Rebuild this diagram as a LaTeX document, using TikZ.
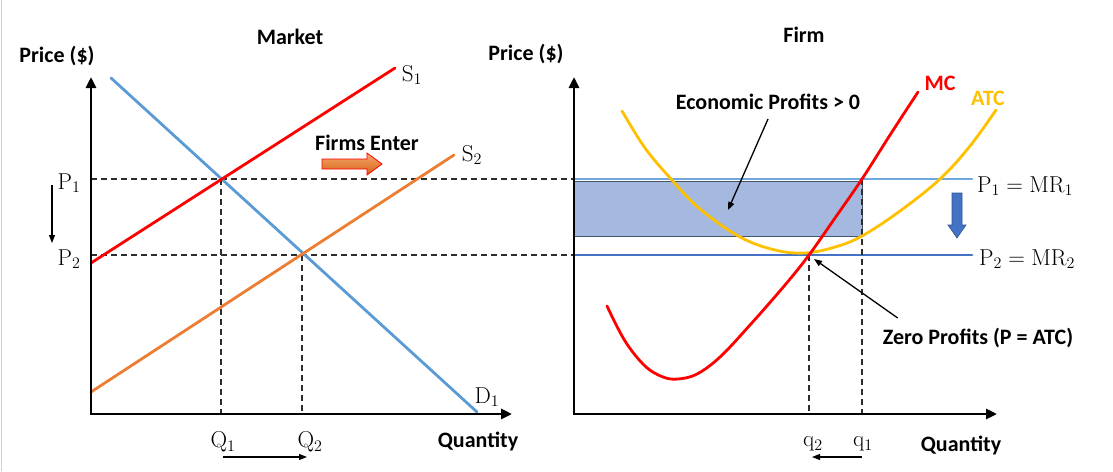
\RequirePackage{fix-cm}
\documentclass[tikz,border=0pt]{standalone}
\usepackage[no-math]{fontspec}
\setmainfont{Carlito}
\usetikzlibrary{arrows.meta}

\definecolor{demblue}{RGB}{91,155,213}
\definecolor{supred}{RGB}{255,0,0}
\definecolor{suporange}{RGB}{237,125,49}
\definecolor{atcyellow}{RGB}{255,192,0}
\definecolor{mrone}{RGB}{111,168,220}
\definecolor{mrtwo}{RGB}{68,114,196}
\definecolor{mrtwoedge}{RGB}{47,82,143}
\definecolor{profitfill}{RGB}{164,184,224}
\definecolor{profitedge}{RGB}{68,84,106}
\definecolor{guidegray}{RGB}{45,45,45}
\definecolor{enterlight}{RGB}{246,170,110}
\definecolor{enterdark}{RGB}{214,96,20}

\tikzset{
  axis/.style={line width=2.8pt, line join=miter, {Triangle[length=11pt,width=10pt]}-{Triangle[length=11pt,width=10pt]}},
  guide/.style={guidegray, line width=1.3pt, dash pattern=on 6pt off 4pt},
  curve/.style={line width=2.8pt, line cap=round},
  thinarrow/.style={line width=1.3pt, -{Triangle[length=8pt,width=6pt]}},
  lbl/.style={font=\fontsize{22}{26}\selectfont\bfseries, inner sep=0pt},
  mlbl/.style={font=\fontsize{23}{27}\selectfont, inner sep=0pt},
}

\begin{document}
\begin{tikzpicture}[x=1pt, y=-1pt]
  \useasboundingbox (0,0) rectangle (1113,471);
  \draw[gray!35, line width=1pt] (1,0) -- (1,471);

  % market
  \node[lbl] (market) at (290,37) {Market};
  \node[lbl] (mprice) at (57,56) {Price (\$)};
  \node[lbl] (mqty) at (478,441) {Quantity};
  \draw[guide] (91,179) -- (574,179);
  \draw[guide] (91,255) -- (574,255);
  \draw[guide] (221,179) -- (221,414);
  \draw[guide] (302,255) -- (302,414);
  \draw[curve, demblue] (111,78) -- (477,412);
  \draw[curve, supred] (91,263) -- (395,68);
  \draw[curve, suporange] (91,392) -- (454,155);
  \draw[axis] (91,77) -- (91,414) -- (512,414);
  \node[mlbl] (sone) at (412,75) {$\mathrm{S}_1$};
  \node[mlbl] (stwo) at (472,155) {$\mathrm{S}_2$};
  \node[mlbl] (done) at (487,397) {$\mathrm{D}_1$};
  \node[mlbl] (pone) at (69,183) {$\mathrm{P}_1$};
  \node[mlbl] (ptwo) at (69,259) {$\mathrm{P}_2$};
  \node[mlbl] (qone) at (223,442) {$\mathrm{Q}_1$};
  \node[mlbl] (qtwo) at (310,442) {$\mathrm{Q}_2$};
  \coordinate (pdowntop) at (52,185);
  \coordinate (pdownbot) at (52,243);
  \draw[thinarrow] (pdowntop) -- (pdownbot);
  \coordinate (qrightl) at (223,457);
  \coordinate (qrightr) at (307,457);
  \draw[thinarrow] (qrightl) -- (qrightr);
  \node[lbl] (enter) at (367,143) {Firms Enter};
  \shade[top color=enterlight, bottom color=enterdark, draw=supred, line width=0.8pt]
    (322,159) -- (367,159) -- (367,153) -- (382,164) -- (367,175) -- (367,169) -- (322,169) -- cycle;

  % firm
  \node[lbl] (firm) at (804,35) {Firm};
  \node[lbl] (fprice) at (526,54) {Price (\$)};
  \node[lbl] (fqty) at (961,445) {Quantity};
  \draw[profitedge, fill=profitfill, line width=0.8pt] (574,181) rectangle (862,236);
  \draw[curve, mrone] (574,179) -- (972,179);
  \draw[curve, mrtwo] (574,255) -- (972,255);
  \draw[guide] (809,255) -- (809,414);
  \draw[guide] (862,179) -- (862,414);
  \draw[curve, atcyellow] plot[smooth, tension=0.6] coordinates {(622,111) (645,148) (671,179) (700,209) (740,237) (775,250) (805,253) (835,247) (862,236) (900,211) (940,179) (970,146) (996,110)};
  \draw[curve, supred] plot[smooth, tension=0.6] coordinates {(607,306) (625,341) (645,366) (663,377) (678,379) (697,374) (720,357) (750,325) (785,285) (809,255) (835,218) (862,179) (890,135) (918,92)};
  \draw[axis] (574,77) -- (574,414) -- (997,414);
  \node[lbl, supred] (mc) at (940,83) {MC};
  \node[lbl, atcyellow] (atc) at (988,98) {ATC};
  \node[mlbl] (mrlone) at (1025,186) {$\mathrm{P}_1 = \mathrm{MR}_1$};
  \node[mlbl] (mrltwo) at (1027,259) {$\mathrm{P}_2 = \mathrm{MR}_2$};
  \filldraw[fill=mrtwo, draw=mrtwoedge, line width=0.6pt]
    (952,193) -- (962,193) -- (962,225) -- (966,225) -- (957,238) -- (948,225) -- (952,225) -- cycle;
  \node[mlbl] (qsmtwo) at (813,444) {$\mathrm{q}_2$};
  \node[mlbl] (qsmone) at (863,444) {$\mathrm{q}_1$};
  \coordinate (qleftr) at (862,457);
  \coordinate (qleftl) at (812,457);
  \draw[thinarrow] (qleftr) -- (qleftl);
  \node[lbl] (econ) at (768,102) {Economic Profits > 0};
  \coordinate (profitarea) at (728,210);
  \draw[thinarrow] ([yshift=-9pt]econ.south) -- (profitarea);
  \node[lbl] (zero) at (978,338) {Zero Profits (P = ATC)};
  \coordinate (zeropoint) at (814,259);
  \draw[thinarrow] ([xshift=15pt,yshift=10pt]zero.north west) -- (zeropoint);
\end{tikzpicture}
\end{document}
